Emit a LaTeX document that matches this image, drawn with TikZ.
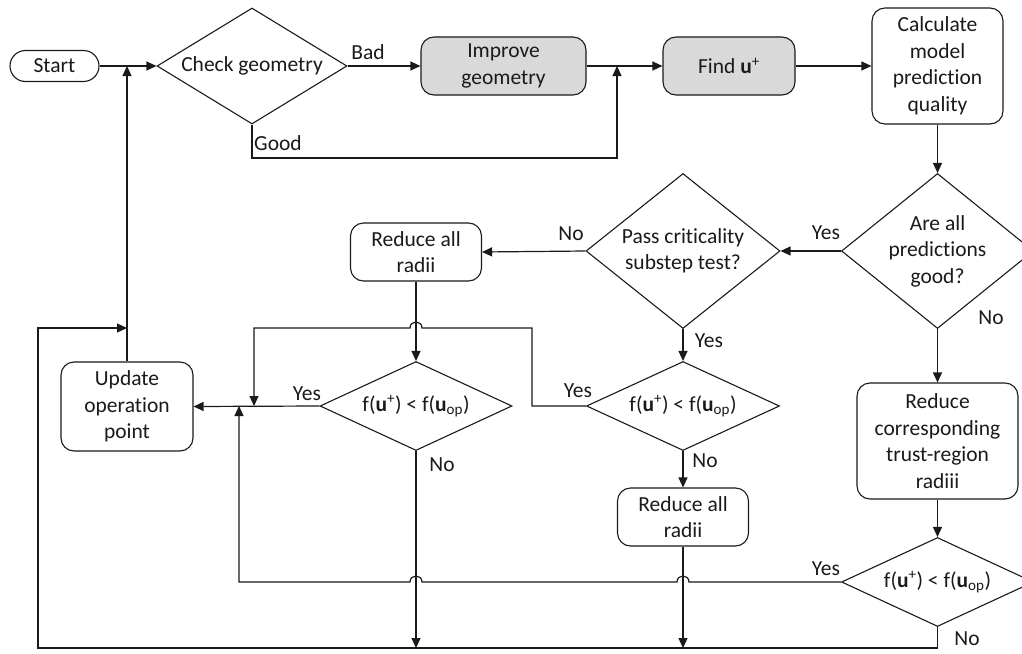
\documentclass[tikz,border=0pt]{standalone}
\usepackage{fontspec}
\setmainfont{Carlito}[Ligatures={NoCommon,NoRare}]
\usetikzlibrary{shapes.geometric,arrows.meta}
\definecolor{boxgray}{HTML}{D9D9D9}
\definecolor{ink}{HTML}{1A1A1A}
\tikzset{
  txt/.style={font=\fontsize{21.5}{26.5}\selectfont, text=ink},
  box/.style={txt, draw=ink, line width=1.1pt, rounded corners=13pt, align=center, inner sep=0pt},
  grbox/.style={box, fill=boxgray},
  dia/.style={txt, draw=ink, line width=1.1pt, diamond, align=center, inner sep=0pt},
  lbl/.style={txt, inner sep=0pt},
  con/.style={draw=ink, line width=1.2pt},
  arr/.style={con, -{Triangle[length=10pt,width=9pt]}}
}
\newcommand{\ub}{\textbf{u}}
\begin{document}
\begin{tikzpicture}[x=1pt,y=-1pt]
\useasboundingbox (0,0) rectangle (1022,653);
\clip (0,0) rectangle (1022,653);
\fill[white] (0,0) rectangle (1022,653);

% nodes
\node[box, rounded corners=15.5pt, minimum width=89pt, minimum height=31pt] (start) at (54.5,66) {Start};
\node[dia, aspect=1.64, minimum width=190pt, minimum height=116pt] (check) at (252,66) {Check geometry};
\node[grbox, minimum width=165pt, minimum height=58pt] (improve) at (503.5,66) {Improve\\geometry};
\node[grbox, minimum width=132pt, minimum height=58pt] (find) at (729,66) {Find \ub\textsuperscript{+}};
\node[box, minimum width=131pt, minimum height=116pt] (calc) at (937.5,66) {Calculate\\model\\prediction\\quality};
\node[dia, aspect=1.25, minimum width=192pt, minimum height=155pt] (allgood) at (937.5,251) {Are all\\predictions\\good?};
\node[dia, aspect=1.26, minimum width=194pt, minimum height=155pt] (pass) at (683,251) {Pass criticality\\substep test?};
\node[box, minimum width=131pt, minimum height=58pt] (reduceA) at (416,252) {Reduce all\\radii};
\node[dia, aspect=2.18, minimum width=192pt, minimum height=89pt] (f1) at (416,406) {f(\ub\textsuperscript{+}) < f(\ub\textsubscript{op})};
\node[dia, aspect=2.18, minimum width=193pt, minimum height=89pt] (f2) at (683,406) {f(\ub\textsuperscript{+}) < f(\ub\textsubscript{op})};
\node[box, minimum width=132pt, minimum height=89pt] (update) at (127,406.5) {Update\\operation\\point};
\node[box, minimum width=131pt, minimum height=58pt] (reduceB) at (683,517) {Reduce all\\radii};
\node[box, minimum width=161pt, minimum height=116pt] (reduceC) at (937.5,441) {Reduce\\corresponding\\trust-region\\radiii};
\node[dia, aspect=2.18, minimum width=192pt, minimum height=89pt] (f3) at (937.5,582) {f(\ub\textsuperscript{+}) < f(\ub\textsubscript{op})};

% labels
\node[lbl] (lbad) at (368,52) {Bad};
\node[lbl] (lgood) at (278,143) {Good};
\node[lbl] (lyesA) at (826,233) {Yes};
\node[lbl] (lnoA) at (991,318) {No};
\node[lbl] (lnoP) at (571,234) {No};
\node[lbl] (lyesP) at (709,341) {Yes};
\node[lbl] (lyes2) at (578,391) {Yes};
\node[lbl] (lno2) at (705,461) {No};
\node[lbl] (lyes1) at (307,394) {Yes};
\node[lbl] (lno1) at (442,465) {No};
\node[lbl] (lyes3) at (826,569) {Yes};
\node[lbl] (lno3) at (967,639) {No};

% helper coordinates
\coordinate (j1) at (617,66);
\coordinate (g1) at (617,158);
\coordinate (ju) at (127,66);
\coordinate (jl) at (127,328);
\coordinate (bl) at (38,328);
\coordinate (bb) at (38,648);
\coordinate (b3) at (937.5,648);
\coordinate (b1) at (416,648);
\coordinate (b2) at (683,648);
\coordinate (k1) at (532,406);
\coordinate (k2) at (532,328);
\coordinate (k3) at (254,328);
\coordinate (k4) at (254,406);
\coordinate (m1) at (239,582);
\coordinate (m2) at (239,406);

% connectors
\draw[arr] (start) -- (check);
\draw[arr] (update.north) -- (ju);
\draw[arr] (check.east) -- (improve.west);
\draw[arr] (check.south) |- (g1) -- (j1);
\draw[arr] (improve.east) -- (find.west);
\draw[arr] (find.east) -- (calc.west);
\draw[arr] (calc.south) -- (allgood.north);
\draw[arr] (allgood.west) -- (pass.east);
\draw[arr] (pass.west) -- (reduceA.east);
\draw[arr] (allgood.south) -- (reduceC.north);
\draw[arr] (reduceC.south) -- (f3.north);
\draw[arr] (pass.south) -- (f2.north);
\draw[arr] (f2.south) -- (reduceB.north);
\draw[arr] (reduceA.south) -- (f1.north);
\draw[arr] (f1.west) -- (update.east);
\draw[arr] (f2.west) -- (k1) -- (k2) -- (422,328) .. controls (422,320) and (410,320) .. (410,328) -- (k3) -- (k4);
\draw[arr] (f3.west) -- (689,582) .. controls (689,574) and (677,574) .. (677,582) -- (422,582) .. controls (422,574) and (410,574) .. (410,582) -- (m1) -- (m2);
\draw[arr] (f3.south) -- (b3) -- (bb) -- (bl) -- (jl);
\draw[arr] (f1.south) -- (b1);
\draw[arr] (reduceB.south) -- (b2);
\end{tikzpicture}
\end{document}
